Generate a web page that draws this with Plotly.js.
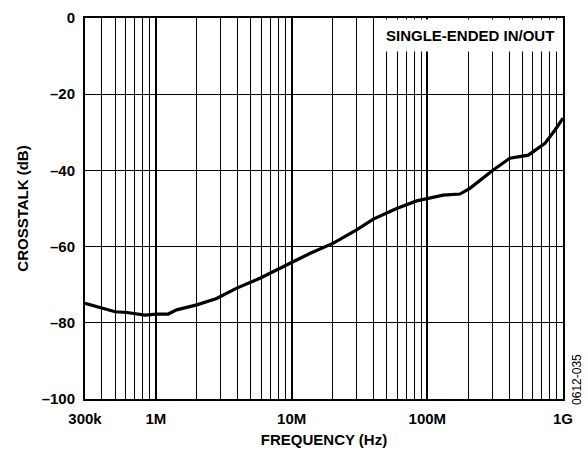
<!DOCTYPE html>
<html>
<head>
<meta charset="utf-8">
<script src="https://cdn.plot.ly/plotly-3.0.1.min.js"></script>
<style>html,body{margin:0;padding:0;background:#fff;}#chart{width:588px;height:451px;}</style>
</head>
<body>
<div id="chart"></div>
<script>
const freqHz = [3.0e5, 4.1e5, 5.0e5, 6.1e5, 8.3e5, 1.01e6, 1.23e6, 1.42e6, 2.0e6, 2.8e6, 3.94e6, 5.84e6, 1.03e7, 1.36e7, 2.03e7, 3.01e7, 4.0e7, 5.94e7, 8.34e7, 1.31e8, 1.74e8, 2.06e8, 3.06e8, 4.06e8, 5.55e8, 7.36e8, 8.73e8, 1.0e9];
const crosstalkDb = [-74.9, -76.2, -77.1, -77.3, -78.0, -77.7, -77.7, -76.6, -75.3, -73.6, -70.9, -68.3, -64.0, -61.8, -59.1, -55.6, -52.8, -50.0, -48.0, -46.5, -46.2, -44.7, -39.9, -36.8, -36.0, -32.9, -29.4, -26.3];
const xTickVals = [3e5, 1e6, 1e7, 1e8, 1e9];
const xTickText = ["300k", "1M", "10M", "100M", "1G"];
const yTickVals = [-100, -80, -60, -40, -20, 0];
const yTickText = ["\u2013100", "\u201380", "\u201360", "\u201340", "\u201320", "0"];
const minorVals = [];
[1e5, 1e6, 1e7, 1e8].forEach(d => { for (let k = 2; k <= 9; k++) { const v = k * d; if (v > 3e5 && v < 1e9) minorVals.push(v); } });

const fam = "Liberation Sans, Arial, sans-serif";
const boldFont = {family: fam, size: 15, color: "#000", weight: "bold"};
Plotly.newPlot("chart", [{
  x: freqHz, y: crosstalkDb, type: "scatter", mode: "lines",
  line: {color: "#000", width: 3.2}, hoverinfo: "skip"
}], {
  width: 588, height: 451,
  margin: {l: 85, r: 25, t: 18, b: 52},
  paper_bgcolor: "#fff", plot_bgcolor: "#fff",
  showlegend: false,
  font: {family: fam, size: 12, color: "#000"},
  xaxis: {
    type: "log", range: [Math.log10(3e5), 9],
    tickmode: "array", tickvals: xTickVals, ticktext: xTickText,
    tickfont: boldFont, ticklabelstandoff: 5,
    ticks: "", showgrid: true, gridcolor: "#000", gridwidth: 2,
    minor: {tickmode: "array", tickvals: minorVals, showgrid: true, gridcolor: "#000", gridwidth: 1, ticks: ""},
    showline: true, linecolor: "#000", linewidth: 2, mirror: true,
    zeroline: false,
    title: {text: "FREQUENCY (Hz)", font: boldFont, standoff: 8}
  },
  yaxis: {
    range: [-100, 0],
    tickmode: "array", tickvals: yTickVals, ticktext: yTickText,
    tickfont: boldFont, ticklabelstandoff: 5,
    ticks: "", ticklen: 0, showgrid: true, gridcolor: "#000", gridwidth: 1,
    showline: true, linecolor: "#000", linewidth: 2, mirror: true,
    zeroline: false,
    title: {text: "CROSSTALK (dB)", font: boldFont, standoff: 9}
  },
  annotations: [{
    xref: "paper", yref: "paper", x: 1, y: 1, xanchor: "right", yanchor: "top",
    xshift: -1, yshift: -1,
    text: "SINGLE-ENDED IN/OUT", showarrow: false,
    font: boldFont,
    bgcolor: "#fff", borderpad: 7
  }, {
    xref: "paper", yref: "paper", x: 1, y: 0.05, xanchor: "left", yanchor: "middle", xshift: 5,
    text: "0612-035", showarrow: false, textangle: -90,
    font: {family: fam, size: 12, color: "#000"}
  }]
}, {displayModeBar: false, staticPlot: true});
</script>
</body>
</html>
